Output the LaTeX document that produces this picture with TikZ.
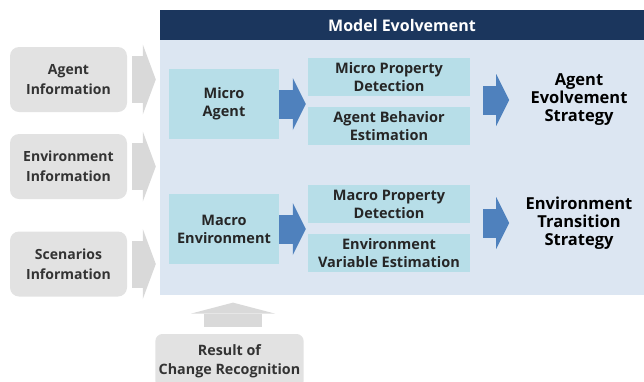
\documentclass[tikz,border=0pt]{standalone}
\usepackage{fontspec}
\setmainfont{Open Sans}
\usetikzlibrary{positioning, arrows.meta}

\definecolor{navy}{HTML}{1B365D}
\definecolor{panelblue}{HTML}{DCE6F2}
\definecolor{cyanbox}{HTML}{B7DEE8}
\definecolor{arrowblue}{HTML}{4F81BD}
\definecolor{infogray}{HTML}{E2E2E2}
\definecolor{arrowgray}{HTML}{D9D9D9}
\definecolor{textgray}{HTML}{333333}

\tikzset{
  infobox/.style={fill=infogray, rounded corners=9pt, minimum width=117pt,
    minimum height=65pt, align=center, text=textgray,
    font=\fontsize{14}{20}\selectfont\bfseries},
  stepbox/.style={fill=cyanbox, minimum width=162pt, minimum height=38pt,
    inner sep=0pt, align=center, text=black!85,
    font=\fontsize{14.5}{18}\selectfont\bfseries},
  corebox/.style={fill=cyanbox, minimum width=110pt, minimum height=70pt,
    align=center, text=black!85, font=\fontsize{14.5}{18}\selectfont\bfseries},
  strategy/.style={inner sep=0pt, align=center, text=black,
    font=\fontsize{16.5}{18}\selectfont\bfseries},
  bluearrow/.style={arrowblue, line width=29pt,
    -{Triangle[length=13pt, width=52pt, line width=0pt]}},
  grayarrow/.style={arrowgray, line width=47pt,
    -{Triangle[length=13pt, width=70pt, line width=0pt]}},
  uparrow/.style={arrowgray, line width=58pt,
    -{Triangle[length=11pt, width=84pt, line width=0pt]}}
}

\begin{document}
\begin{tikzpicture}[x=1pt, y=-1pt, node distance=49pt, on grid]
  \useasboundingbox (0,0) rectangle (644,381);

  % model evolvement frame
  \node[fill=navy, minimum width=484pt, minimum height=30pt, text=white,
    font=\fontsize{16}{18}\selectfont\bfseries] (head) at (402,25) {Model Evolvement};
  \node[fill=panelblue, minimum width=484pt, minimum height=255pt, anchor=north]
    (panel) at (head.south) {};

  % inputs
  \node[infobox] (agentinfo) at (68.5,79.5) {Agent\\Information};
  \node[infobox, below=87pt of agentinfo] (envinfo) {Environment\\Information};
  \node[infobox, below=97.5pt of envinfo] (scenario) {Scenarios\\Information};

  % micro level
  \node[corebox] (micro) at (224,104) {Micro\\Agent};
  \node[stepbox] (mpd) at (389,77) {Micro Property\\Detection};
  \node[stepbox, below=of mpd] (abe) {Agent Behavior\\Estimation};
  \node[strategy] (agentstrat) at (579,100) {Agent\\Evolvement\\Strategy};

  % macro level
  \node[corebox] (macro) at (224,229) {Macro\\Environment};
  \node[stepbox, below=127pt of mpd] (mapd) {Macro Property\\Detection};
  \node[stepbox, below=of mapd] (eve) {Environment\\Variable Estimation};
  \node[strategy] (envstrat) at (579,223) {Environment\\Transition\\Strategy};

  % change recognition
  \node[fill=infogray, rounded corners=7pt, minimum width=147pt, minimum height=54pt,
    align=center, text=textgray, font=\fontsize{14.3}{19}\selectfont\bfseries]
    (result) at (229.5,361) {Result of\\Change Recognition};

  \foreach \src in {agentinfo, envinfo, scenario}
    \draw[grayarrow] ([xshift=5pt]\src.east) -- ([xshift=-4pt]\src.east -| panel.west);

  \draw[bluearrow] (micro.east) -- ([xshift=-2pt]micro.east -| mpd.west);
  \draw[bluearrow] (macro.east) -- ([xshift=-2pt]macro.east -| mapd.west);
  \draw[bluearrow] ([xshift=13pt]mpd.east |- agentstrat) -- ([xshift=39pt]mpd.east |- agentstrat);
  \draw[bluearrow] ([xshift=13pt]mapd.east |- envstrat) -- ([xshift=39pt]mapd.east |- envstrat);

  \draw[uparrow] ([xshift=3.5pt, yshift=7pt]result.north)
    -- ([xshift=3.5pt, yshift=-7pt]result.north |- panel.south);
\end{tikzpicture}
\end{document}
